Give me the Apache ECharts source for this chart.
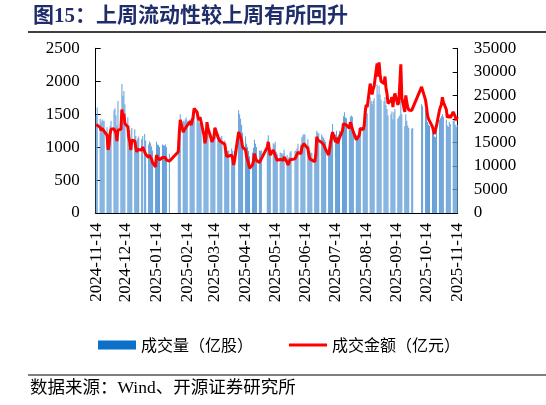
<!DOCTYPE html>
<html><head><meta charset="utf-8">
<script src="https://cdn.jsdelivr.net/npm/echarts@6/dist/echarts.min.js"></script>
<style>html,body{margin:0;padding:0;background:#fff}#c{width:546px;height:405px}</style>
</head><body><div id="c"></div>
<script>
// Trading days shown on the chart
const tradeDates = [
'2024-11-14','2024-11-15','2024-11-18','2024-11-19','2024-11-20','2024-11-21','2024-11-22','2024-11-25','2024-11-26','2024-11-27','2024-11-28','2024-11-29',
'2024-12-02','2024-12-03','2024-12-04','2024-12-05','2024-12-06','2024-12-09','2024-12-10','2024-12-11','2024-12-12','2024-12-13','2024-12-16','2024-12-17','2024-12-18','2024-12-19','2024-12-20','2024-12-23','2024-12-24','2024-12-25','2024-12-26','2024-12-27','2024-12-30','2024-12-31',
'2025-01-02','2025-01-03','2025-01-06','2025-01-07','2025-01-08','2025-01-09','2025-01-10','2025-01-13','2025-01-14','2025-01-15','2025-01-16','2025-01-17','2025-01-20','2025-01-21','2025-01-22','2025-01-23','2025-01-24','2025-01-27',
'2025-02-05','2025-02-06','2025-02-07','2025-02-10','2025-02-11','2025-02-12','2025-02-13','2025-02-14','2025-02-17','2025-02-18','2025-02-19','2025-02-20','2025-02-21','2025-02-24','2025-02-25','2025-02-26','2025-02-27','2025-02-28',
'2025-03-03','2025-03-04','2025-03-05','2025-03-06','2025-03-07','2025-03-10','2025-03-11','2025-03-12','2025-03-13','2025-03-14','2025-03-17','2025-03-18','2025-03-19','2025-03-20','2025-03-21','2025-03-24','2025-03-25','2025-03-26','2025-03-27','2025-03-28','2025-03-31',
'2025-04-01','2025-04-02','2025-04-03','2025-04-07','2025-04-08','2025-04-09','2025-04-10','2025-04-11','2025-04-14','2025-04-15','2025-04-16','2025-04-17','2025-04-18','2025-04-21','2025-04-22','2025-04-23','2025-04-24','2025-04-25','2025-04-28','2025-04-29','2025-04-30',
'2025-05-06','2025-05-07','2025-05-08','2025-05-09','2025-05-12','2025-05-13','2025-05-14','2025-05-15','2025-05-16','2025-05-19','2025-05-20','2025-05-21','2025-05-22','2025-05-23','2025-05-26','2025-05-27','2025-05-28','2025-05-29','2025-05-30',
'2025-06-03','2025-06-04','2025-06-05','2025-06-06','2025-06-09','2025-06-10','2025-06-11','2025-06-12','2025-06-13','2025-06-16','2025-06-17','2025-06-18','2025-06-19','2025-06-20','2025-06-23','2025-06-24','2025-06-25','2025-06-26','2025-06-27','2025-06-30',
'2025-07-01','2025-07-02','2025-07-03','2025-07-04','2025-07-07','2025-07-08','2025-07-09','2025-07-10','2025-07-11','2025-07-14','2025-07-15','2025-07-16','2025-07-17','2025-07-18','2025-07-21','2025-07-22','2025-07-23','2025-07-24','2025-07-25','2025-07-28','2025-07-29','2025-07-30','2025-07-31',
'2025-08-01','2025-08-04','2025-08-05','2025-08-06','2025-08-07','2025-08-08','2025-08-11','2025-08-12','2025-08-13','2025-08-14','2025-08-15','2025-08-18','2025-08-19','2025-08-20','2025-08-21','2025-08-22','2025-08-25','2025-08-26','2025-08-27','2025-08-28','2025-08-29',
'2025-09-01','2025-09-02','2025-09-03','2025-09-04','2025-09-05','2025-09-08','2025-09-09','2025-09-10','2025-09-11','2025-09-12','2025-09-15','2025-09-16','2025-09-17','2025-09-18','2025-09-19','2025-09-22','2025-09-23','2025-09-24','2025-09-25','2025-09-26','2025-09-29','2025-09-30',
'2025-10-09','2025-10-10','2025-10-13','2025-10-14','2025-10-15','2025-10-16','2025-10-17','2025-10-20','2025-10-21','2025-10-22','2025-10-23','2025-10-24','2025-10-27','2025-10-28','2025-10-29','2025-10-30','2025-10-31',
'2025-11-03','2025-11-04','2025-11-05','2025-11-06','2025-11-07','2025-11-10','2025-11-11','2025-11-12','2025-11-13','2025-11-14'
];
// 成交量（亿股）
const volume = [
1480,1600,1430,1380,1420,1400,1400,1300,1060,1140,1320,1400,
1560,1590,1480,1330,1700,1550,1960,1780,1850,1650,1450,1330,1260,1120,1290,1270,1170,1090,1130,1160,1120,1170,
1200,1100,1040,1090,1060,1010,950,870,1080,1040,1030,1000,1040,1030,1020,1040,1000,900,
1050,1350,1500,1400,1380,1420,1450,1400,1420,1350,1400,1430,1480,1470,1400,1360,1380,1380,
1220,1100,1190,1330,1300,1200,1130,1160,1190,1300,1210,1180,1150,1130,1170,1100,1010,950,940,950,980,
940,860,950,1560,1500,1430,1340,1220,1160,1050,1000,940,860,920,990,1110,1050,1000,950,940,950,
1100,1180,1070,980,1060,1040,1080,930,900,920,910,900,900,960,880,830,850,920,940,
940,950,980,1050,1040,1150,1180,1200,1190,1120,1020,950,920,910,900,1000,1250,1220,1210,1190,
1160,1140,1110,1080,990,1080,1190,1220,1350,1190,1250,1160,1190,1250,1360,1470,1530,1450,1440,1380,1460,1480,1460,
1270,1180,1150,1200,1230,1300,1290,1330,1460,1550,1510,1760,1700,1650,1700,1740,1950,1800,1930,1800,1720,
1700,1760,1640,1580,1480,1500,1540,1420,1530,1580,1430,1460,1480,1700,1500,1320,1500,1400,1330,1290,1280,1290,
1650,1620,1580,1560,1380,1340,1320,1250,1200,1160,1150,1260,1410,1440,1470,1500,1460,
1420,1330,1310,1380,1350,1400,1410,1340,1300,1340
];
// 成交金额（亿元）
const amount = [
18800,18600,18200,17500,18000,17800,17800,16500,13400,14400,16800,17800,
17900,18300,17000,15300,17600,17800,22000,20400,21100,19000,18300,16000,15100,13400,15500,15300,14000,13000,13500,13900,13400,14000,
14000,12500,11800,12300,12000,11400,10700,9800,12300,11800,11600,11300,11800,11700,11500,11800,11300,11000,
13000,17000,19800,17200,17000,17600,18300,17900,19500,18700,19500,20500,22200,21400,20300,19700,20400,20400,
16500,14800,16000,19300,18000,16000,15100,15500,16000,18100,16200,15800,15300,15100,15500,14600,13200,12000,11800,11900,12300,
11500,10200,11300,17200,16800,16200,15400,14000,13400,12000,11300,10500,9500,10200,11000,12600,11800,11200,10700,10500,10600,
14000,15100,13500,12300,13400,13200,13700,11700,11200,11400,11300,11100,11200,11900,10800,10200,10400,11300,11600,
11500,11600,11900,12900,12600,14000,14400,14700,14500,13700,12400,11500,11200,11100,10900,12300,16200,15500,15400,15000,
14800,14500,14000,13500,12300,13600,15100,15500,17200,15100,16000,14800,15200,16000,17500,19000,19300,18700,18700,18000,19300,19700,19600,
17200,15600,15300,16000,16500,18000,17700,18700,21500,23000,22500,27500,26300,25200,26300,27000,31800,29000,32000,29500,28000,
27500,29000,26500,25400,23300,23900,24600,22500,24500,25400,23000,23600,24000,31600,24500,21500,25000,23500,22500,21900,21800,22000,
26800,26400,24000,22500,20800,20000,19700,18300,17500,16800,16500,18500,21800,22500,23000,24600,23600,
22000,20300,20000,20800,20200,21500,21800,20500,19700,20400
];
const startDate = '2024-11-14';
const endDate = '2025-11-14';
const titleText = '图15：上周流动性较上周有所回升';
const sourceText = '数据来源：Wind、开源证券研究所';
const volName = '成交量（亿股）';
const amtName = '成交金额（亿元）';

// calendar-day category axis
const cats = [];
for (let t = Date.parse(startDate + 'T00:00:00Z'); t <= Date.parse(endDate + 'T00:00:00Z'); t += 86400000) {
  cats.push(new Date(t).toISOString().slice(0, 10));
}
const pos = {};
cats.forEach((d, i) => pos[d] = i);
const volData = cats.map(() => null);
const amtData = cats.map(() => null);
tradeDates.forEach((d, i) => { volData[pos[d]] = volume[i]; amtData[pos[d]] = amount[i]; });

const isTick = (i, v) => v.slice(8) === '14';
const serif = 'Liberation Serif';
const plain = v => String(v);

const chart = echarts.init(document.getElementById('c'), null, {renderer: 'canvas'});
chart.setOption({
  animation: false,
  backgroundColor: '#fff',
  grid: {left: 95.7, right: 88.3, top: 48.3, bottom: 192},
  legend: {
    left: 93, top: 332, itemWidth: 38, itemHeight: 9, itemGap: 36,
    textStyle: {fontFamily: 'Noto Sans CJK SC', fontSize: 16, color: '#000'},
    data: [
      {name: volName, icon: 'rect', itemStyle: {color: '#0A70C8'}},
      {name: amtName, icon: 'path://M0,0H38V3H0Z', itemStyle: {color: '#FF0000'}}
    ]
  },
  xAxis: {
    type: 'category', data: cats, boundaryGap: true,
    axisLine: {lineStyle: {color: '#000', width: 1}},
    axisTick: {inside: true, length: 4, alignWithLabel: true, interval: isTick, lineStyle: {color: '#444'}},
    axisLabel: {interval: isTick, rotate: 90, fontFamily: serif, fontSize: 17, color: '#000', margin: 10}
  },
  yAxis: [
    {type: 'value', min: 0, max: 2500, interval: 500, position: 'left',
     axisLine: {show: true, lineStyle: {color: '#000'}},
     axisTick: {show: true, inside: true, length: 5, lineStyle: {color: '#000'}},
     splitLine: {show: false},
     axisLabel: {formatter: plain, fontFamily: serif, fontSize: 17, color: '#000', margin: 16}},
    {type: 'value', min: 0, max: 35000, interval: 5000, position: 'right',
     axisLine: {show: true, lineStyle: {color: '#000'}},
     axisTick: {show: true, inside: true, length: 5, lineStyle: {color: '#000'}},
     splitLine: {show: false},
     axisLabel: {formatter: plain, fontFamily: serif, fontSize: 17, color: '#000', margin: 16}}
  ],
  series: [
    {name: volName, type: 'bar', yAxisIndex: 0, data: volData, barWidth: '100%',
     itemStyle: {color: '#639FD8'}},
    {name: amtName, type: 'line', yAxisIndex: 1, data: amtData, connectNulls: true,
     symbol: 'none', showSymbol: false, lineStyle: {color: '#FF0000', width: 3}, itemStyle: {color: '#FF0000'}, z: 5}
  ],
  graphic: [
    {type: 'text', left: 33, top: 6, style: {text: titleText, font: 'bold 21px "Liberation Serif","Noto Sans CJK SC"', fill: '#1F2D6B'}},
    {type: 'line', shape: {x1: 28, y1: 32, x2: 546, y2: 32}, style: {stroke: '#000', lineWidth: 1.5}},
    {type: 'line', shape: {x1: 28, y1: 375, x2: 546, y2: 375}, style: {stroke: '#000', lineWidth: 1.2}},
    {type: 'text', left: 30, top: 380, style: {text: sourceText, font: '17.5px "Liberation Serif","Noto Sans CJK SC"', fill: '#000'}}
  ]
});
</script></body></html>
